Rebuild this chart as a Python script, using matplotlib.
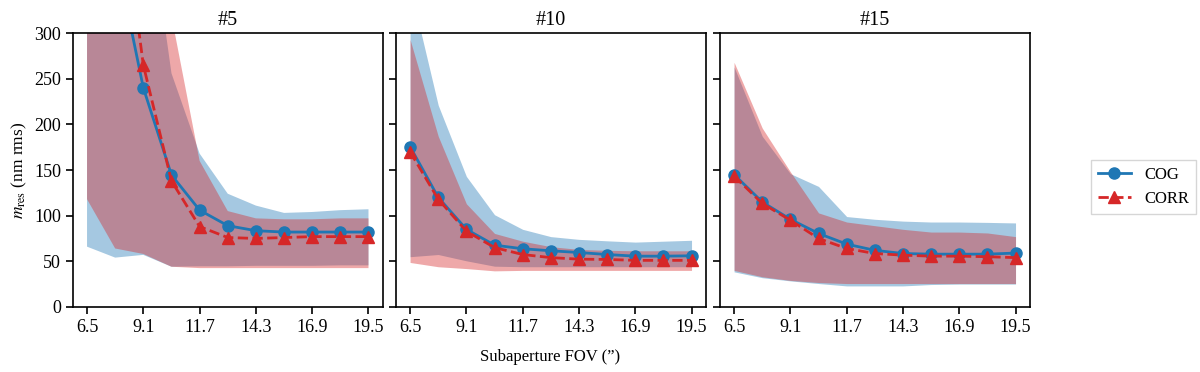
import matplotlib
matplotlib.use("Agg")
import matplotlib.pyplot as plt
import numpy as np

plt.rcParams['font.family'] = ['Liberation Serif', 'DejaVu Serif']
plt.rcParams['mathtext.fontset'] = 'stix'

fov = [6.5, 7.8, 9.1, 10.4, 11.7, 13.0, 14.3, 15.6, 16.9, 18.2, 19.5]
xticks = [6.5, 9.1, 11.7, 14.3, 16.9, 19.5]
titles = ['#5', '#10', '#15']

cog_mean = [
    [600, 390, 240, 144.5, 106, 89, 83.5, 82, 82, 82, 82],
    [175.6, 120, 85, 67.7, 63.7, 61.5, 59.6, 57.4, 55.6, 55.6, 56],
    [145, 115, 96, 80.5, 68.8, 62, 58.5, 57.8, 57.8, 57.8, 59],
]
cog_upper = [
    [900, 700, 476, 256, 168, 124, 111, 103, 104, 106, 107],
    [351, 221, 143, 101, 85, 77, 74, 72.4, 71, 72, 73],
    [263, 187, 146, 132, 99, 96, 94, 93, 93, 92.6, 92],
]
cog_lower = [
    [66, 54, 57, 44, 44.5, 44.5, 45, 45, 45, 45.5, 45.5],
    [55, 57.4, 50.5, 44.6, 44, 44, 44, 44, 44, 44, 44],
    [38.4, 32, 28.5, 25.6, 23, 23, 23, 24.5, 25, 25, 25],
]
corr_mean = [
    [700, 500, 265, 138, 88, 76, 75, 76, 77, 77, 77],
    [170, 118, 83, 65, 57.4, 54, 52.3, 52, 51, 51, 51],
    [143.4, 113.4, 95, 75, 64, 58.5, 56.7, 55.6, 55.6, 55, 54],
]
corr_upper = [
    [900, 700, 500, 319, 160, 105, 97, 96, 96, 97, 97],
    [293, 187, 113, 80.5, 72, 66, 63, 62, 61.5, 61.5, 61.5],
    [268, 196, 148, 103, 93, 89, 85, 82, 82, 81, 77],
]
corr_lower = [
    [118, 64, 58, 44, 42.5, 42.5, 42.5, 42.5, 42.5, 42.5, 42.5],
    [48.7, 44, 42, 39.5, 40, 40, 40, 40, 40, 40, 40],
    [40, 33, 29, 26.7, 25.6, 25.6, 25.6, 25.6, 25.6, 25.6, 25.6],
]

blue = '#1f77b4'
red = '#d62728'

fig = plt.figure(figsize=(12, 3.72), dpi=100)
lefts = [0.0608, 0.33, 0.6]
w = 0.258
bottom = 0.175
h = 0.736
axes = []
for i in range(3):
    ax = fig.add_axes([lefts[i], bottom, w, h])
    axes.append(ax)
    ax.fill_between(fov, cog_lower[i], cog_upper[i], color=blue, alpha=0.4, lw=0)
    ax.fill_between(fov, corr_lower[i], corr_upper[i], color=red, alpha=0.4, lw=0)
    l1, = ax.plot(fov, cog_mean[i], '-o', color=blue, lw=2, ms=8, label='COG')
    l2, = ax.plot(fov, corr_mean[i], '--^', color=red, lw=2, ms=8, label='CORR')
    ax.set_ylim(0, 300)
    ax.set_xlim(5.85, 20.15)
    ax.set_xticks(xticks)
    ax.set_xticklabels([f'{t:.1f}' for t in xticks])
    ax.set_yticks([0, 50, 100, 150, 200, 250, 300])
    ax.tick_params(labelsize=13, width=1.2, length=5)
    for s in ax.spines.values():
        s.set_linewidth(1.2)
    ax.set_title(titles[i], fontsize=14.5, pad=6)
    if i == 0:
        ax.set_ylabel(r'$m_{\rm res}$ (nm rms)', fontsize=12.5)
    else:
        ax.set_yticklabels([])

fig.text(0.4583, 0.02, 'Subaperture FOV (\u201d)', ha='center', va='bottom', fontsize=12)
fig.legend(handles=[l1, l2], loc='center', bbox_to_anchor=(0.953, 0.497), fontsize=12,
           frameon=True, fancybox=False, edgecolor='#cccccc', handlelength=2.0)

fig.savefig('out.png', dpi=100)
